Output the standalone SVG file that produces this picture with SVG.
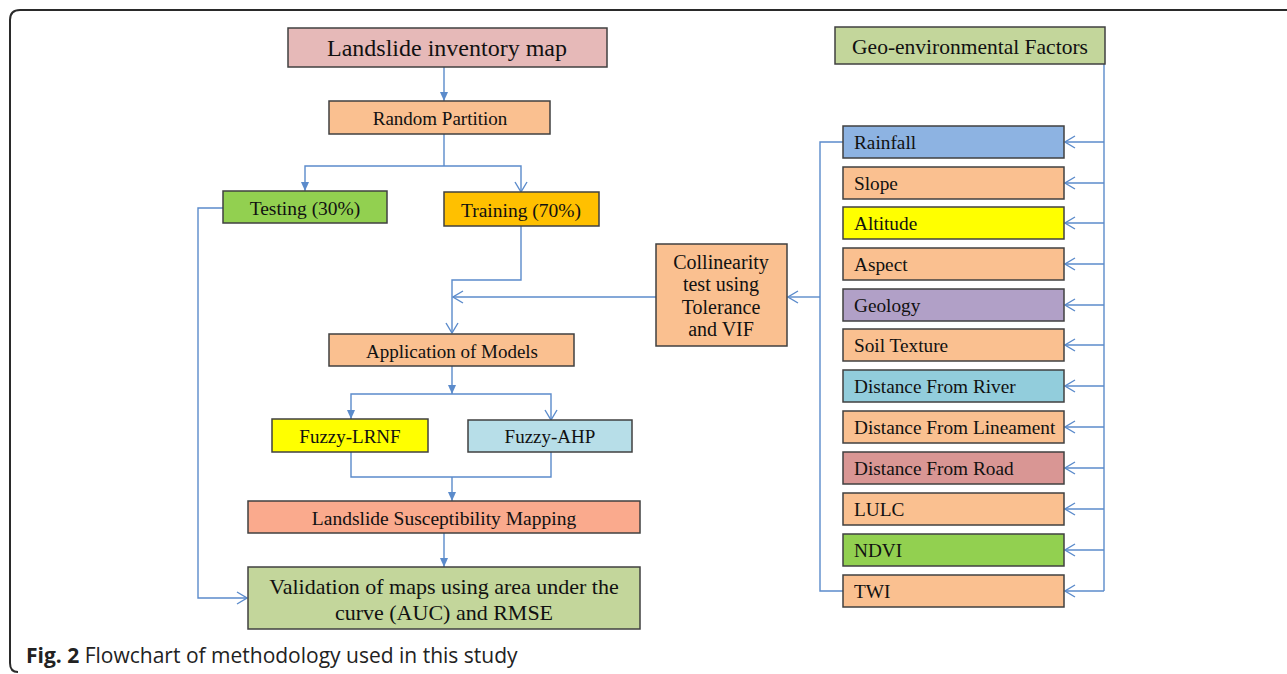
<svg xmlns="http://www.w3.org/2000/svg" width="1287" height="674" viewBox="0 0 1287 674">
<defs>
<style>
.box{stroke:#404040;stroke-width:1.5}
.t{font-family:"Liberation Serif","Times New Roman",serif;fill:#111;text-anchor:middle;dominant-baseline:central}
.tl{font-family:"Liberation Serif","Times New Roman",serif;fill:#111;font-size:19.3px;dominant-baseline:central}
.c{fill:none;stroke:#5B8BCB;stroke-width:1.4}
</style>
<marker id="af" markerUnits="userSpaceOnUse" markerWidth="10" markerHeight="10" viewBox="0 0 10 10" refX="9" refY="5" orient="auto">
<path d="M0,1 L9,5 L0,9 z" fill="#5B8BCB"/>
</marker>
<marker id="ao" markerUnits="userSpaceOnUse" markerWidth="12" markerHeight="14" viewBox="0 0 12 14" refX="11" refY="7" orient="auto">
<path d="M1,1 L11,7 L1,13" fill="none" stroke="#5B8BCB" stroke-width="1.4"/>
</marker>
</defs>
<rect width="1287" height="674" fill="#fff"/>
<path d="M1287 10 H20 Q10 10 10 20 V663 Q10 672 18 672" fill="none" stroke="#2a2a2a" stroke-width="2"/>

<g id="connectors">
<path class="c" d="M444 67 V101" marker-end="url(#af)"/>
<path class="c" d="M444 134 V166"/>
<path class="c" d="M444 166 H305 V191" marker-end="url(#af)"/>
<path class="c" d="M444 166 H521 V192" marker-end="url(#ao)"/>
<path class="c" d="M223 208 H198 V598 H247" marker-end="url(#ao)"/>
<path class="c" d="M521 226 V280 H452 V333" marker-end="url(#ao)"/>
<path class="c" d="M656 297 H453" marker-end="url(#ao)"/>
<path class="c" d="M452 366 V394" marker-end="url(#af)"/>
<path class="c" d="M452 394 H351 V419" marker-end="url(#af)"/>
<path class="c" d="M452 394 H551 V420" marker-end="url(#ao)"/>
<path class="c" d="M351 452 V477 H551 V452"/>
<path class="c" d="M452 477 V501" marker-end="url(#af)"/>
<path class="c" d="M444 533 V567" marker-end="url(#af)"/>
<path class="c" d="M843 142 H820 V591 H843"/>
<path class="c" d="M820 297 H788" marker-end="url(#ao)"/>
<path class="c" d="M1104 64 V591"/>
<path class="c" d="M1104 142 H1065" marker-end="url(#ao)"/>
<path class="c" d="M1104 183 H1065" marker-end="url(#ao)"/>
<path class="c" d="M1104 223 H1065" marker-end="url(#ao)"/>
<path class="c" d="M1104 264 H1065" marker-end="url(#ao)"/>
<path class="c" d="M1104 305 H1065" marker-end="url(#ao)"/>
<path class="c" d="M1104 345 H1065" marker-end="url(#ao)"/>
<path class="c" d="M1104 386 H1065" marker-end="url(#ao)"/>
<path class="c" d="M1104 427 H1065" marker-end="url(#ao)"/>
<path class="c" d="M1104 468 H1065" marker-end="url(#ao)"/>
<path class="c" d="M1104 509 H1065" marker-end="url(#ao)"/>
<path class="c" d="M1104 550 H1065" marker-end="url(#ao)"/>
<path class="c" d="M1104 591 H1065" marker-end="url(#ao)"/>
</g>

<g id="inventory"><rect class="box" x="288" y="28" width="319" height="39" fill="#E6B9B8"/><text class="t" x="447" y="48" font-size="24">Landslide inventory map</text></g>
<g id="partition"><rect class="box" x="329" y="101" width="221" height="33" fill="#FAC090"/><text class="t" x="440" y="118" font-size="19">Random Partition</text></g>
<g id="testing"><rect class="box" x="223" y="191" width="164" height="32" fill="#92D050"/><text class="t" x="305" y="208" font-size="19.5">Testing (30%)</text></g>
<g id="training"><rect class="box" x="444" y="192" width="155" height="34" fill="#FFC000"/><text class="t" x="521" y="210" font-size="19.5">Training (70%)</text></g>
<g id="application"><rect class="box" x="329" y="334" width="245" height="32" fill="#FAC090"/><text class="t" x="452" y="351" font-size="19">Application of Models</text></g>
<g id="lrnf"><rect class="box" x="272" y="419" width="156" height="33" fill="#FFFF00"/><text class="t" x="350" y="436" font-size="19">Fuzzy-LRNF</text></g>
<g id="ahp"><rect class="box" x="468" y="420" width="164" height="32" fill="#B7DEE8"/><text class="t" x="550" y="436" font-size="19">Fuzzy-AHP</text></g>
<g id="lsm"><rect class="box" x="248" y="501" width="392" height="32" fill="#FAAA8D"/><text class="t" x="444" y="518" font-size="19.5">Landslide Susceptibility Mapping</text></g>
<g id="validation"><rect class="box" x="248" y="567" width="392" height="62" fill="#C3D69B"/><text class="t" x="444" y="586" font-size="22">Validation of maps using area under the</text><text class="t" x="444" y="612" font-size="22">curve (AUC) and RMSE</text></g>
<g id="collinearity"><rect class="box" x="656" y="244" width="131" height="102" fill="#FAC090"/><text class="t" x="721" y="262" font-size="20">Collinearity</text><text class="t" x="721" y="284" font-size="20">test using</text><text class="t" x="721" y="307" font-size="20">Tolerance</text><text class="t" x="721" y="329" font-size="20">and VIF</text></g>
<g id="geo"><rect class="box" x="835" y="27" width="270" height="37" fill="#C3D69B"/><text class="t" x="970" y="47" font-size="21.5">Geo-environmental Factors</text></g>

<g id="rainfall"><rect class="box" x="843" y="126" width="221" height="32" fill="#8DB3E2"/><text class="tl" x="854" y="142">Rainfall</text></g>
<g id="slope"><rect class="box" x="843" y="167" width="221" height="32" fill="#FAC090"/><text class="tl" x="854" y="183">Slope</text></g>
<g id="altitude"><rect class="box" x="843" y="207" width="221" height="32" fill="#FFFF00"/><text class="tl" x="854" y="223">Altitude</text></g>
<g id="aspect"><rect class="box" x="843" y="248" width="221" height="32" fill="#FAC090"/><text class="tl" x="854" y="264">Aspect</text></g>
<g id="geology"><rect class="box" x="843" y="289" width="221" height="32" fill="#B1A0C7"/><text class="tl" x="854" y="305">Geology</text></g>
<g id="soil"><rect class="box" x="843" y="329" width="221" height="32" fill="#FAC090"/><text class="tl" x="854" y="345">Soil Texture</text></g>
<g id="river"><rect class="box" x="843" y="370" width="221" height="32" fill="#92CDDC"/><text class="tl" x="854" y="386">Distance From River</text></g>
<g id="lineament"><rect class="box" x="843" y="411" width="221" height="32" fill="#FAC090"/><text class="tl" x="854" y="427">Distance From Lineament</text></g>
<g id="road"><rect class="box" x="843" y="452" width="221" height="32" fill="#D99694"/><text class="tl" x="854" y="468">Distance From Road</text></g>
<g id="lulc"><rect class="box" x="843" y="493" width="221" height="32" fill="#FAC090"/><text class="tl" x="854" y="509">LULC</text></g>
<g id="ndvi"><rect class="box" x="843" y="534" width="221" height="32" fill="#92D050"/><text class="tl" x="854" y="550">NDVI</text></g>
<g id="twi"><rect class="box" x="843" y="575" width="221" height="32" fill="#FAC090"/><text class="tl" x="854" y="591">TWI</text></g>

<text x="26" y="663" font-family="'Open Sans','Noto Sans',sans-serif" font-size="21" fill="#222"><tspan font-weight="bold">Fig. 2</tspan> Flowchart of methodology used in this study</text>
</svg>
